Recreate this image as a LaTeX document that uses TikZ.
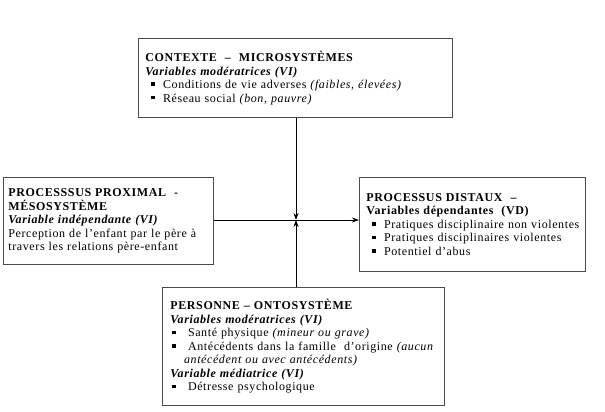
\documentclass[tikz,border=0pt]{standalone}
\usepackage{fontspec}
\setmainfont{Liberation Serif}[LetterSpace=5]
\usetikzlibrary{arrows.meta,calc}
\newcommand\sqbul{\rule[2.6pt]{3.6pt}{3.6pt}}
\newcommand\itm[1][6pt]{\hspace*{#1}\sqbul\hspace*{8pt}}
\begin{document}
\begin{tikzpicture}[x=1pt,y=-1pt,
  box/.style={draw=black!70, line width=0.9pt, anchor=north west, align=left,
    inner xsep=7pt, inner ysep=0pt, font=\fontsize{12}{13.5}\selectfont},
  conn/.style={line width=0.9pt, draw=black},
  tip/.style={-{Stealth[length=7pt,width=5pt]}}]
\useasboundingbox (0,0) rectangle (605,412);
\node[box, text width=300pt, minimum height=79pt] (top) at (138,38) {%
{\bfseries CONTEXTE \ – \ MICROSYSTÈMES}\\
{\bfseries\itshape Variables modératrices (VI)}\\
\mbox{\itm Conditions de vie adverses {\itshape (faibles, élevées)}}\\
\itm Réseau social {\itshape (bon, pauvre)}};
\node[box, inner xsep=5pt, text width=200pt, minimum height=87pt] (left) at (3,177) {%
{\bfseries PROCESSSUS PROXIMAL \ -}\\
{\bfseries MÉSOSYSTÈME}\\
{\bfseries\itshape Variable indépendante (VI)}\\
\mbox{Perception de l'enfant par le père à}\\
\mbox{travers les relations père-enfant}};
\node[box, text width=212pt, minimum height=94pt] (right) at (359,177) {%
{\bfseries PROCESSUS DISTAUX \ –}\\
{\bfseries Variables dépendantes \ (VD)}\\
\mbox{\itm Pratiques disciplinaire non violentes}\\
\mbox{\itm Pratiques disciplinaires violentes}\\
\itm Potentiel d'abus};
\node[box, inner xsep=8pt, text width=266pt, minimum height=118pt] (bot) at (162,287) {%
{\bfseries PERSONNE – ONTOSYSTÈME}\\
{\bfseries\itshape Variables modératrices (VI)}\\
\itm[2pt] Santé physique {\itshape (mineur ou grave)}\\
\mbox{\itm[2pt] Antécédents dans la famille \ d'origine {\itshape (aucun}}\\
\hspace*{13.6pt}{\itshape antécédent ou avec antécédents)}\\
{\bfseries\itshape Variable médiatrice (VI)}\\
\itm[2pt] Détresse psychologique};
\coordinate (c) at (296,220);
\draw[conn, tip] (c |- top.south) -- (c);
\draw[conn, tip] (c |- bot.north) -- (c);
\draw[conn, tip] (left.east |- c) -- (c -| right.west);
\end{tikzpicture}
\end{document}
